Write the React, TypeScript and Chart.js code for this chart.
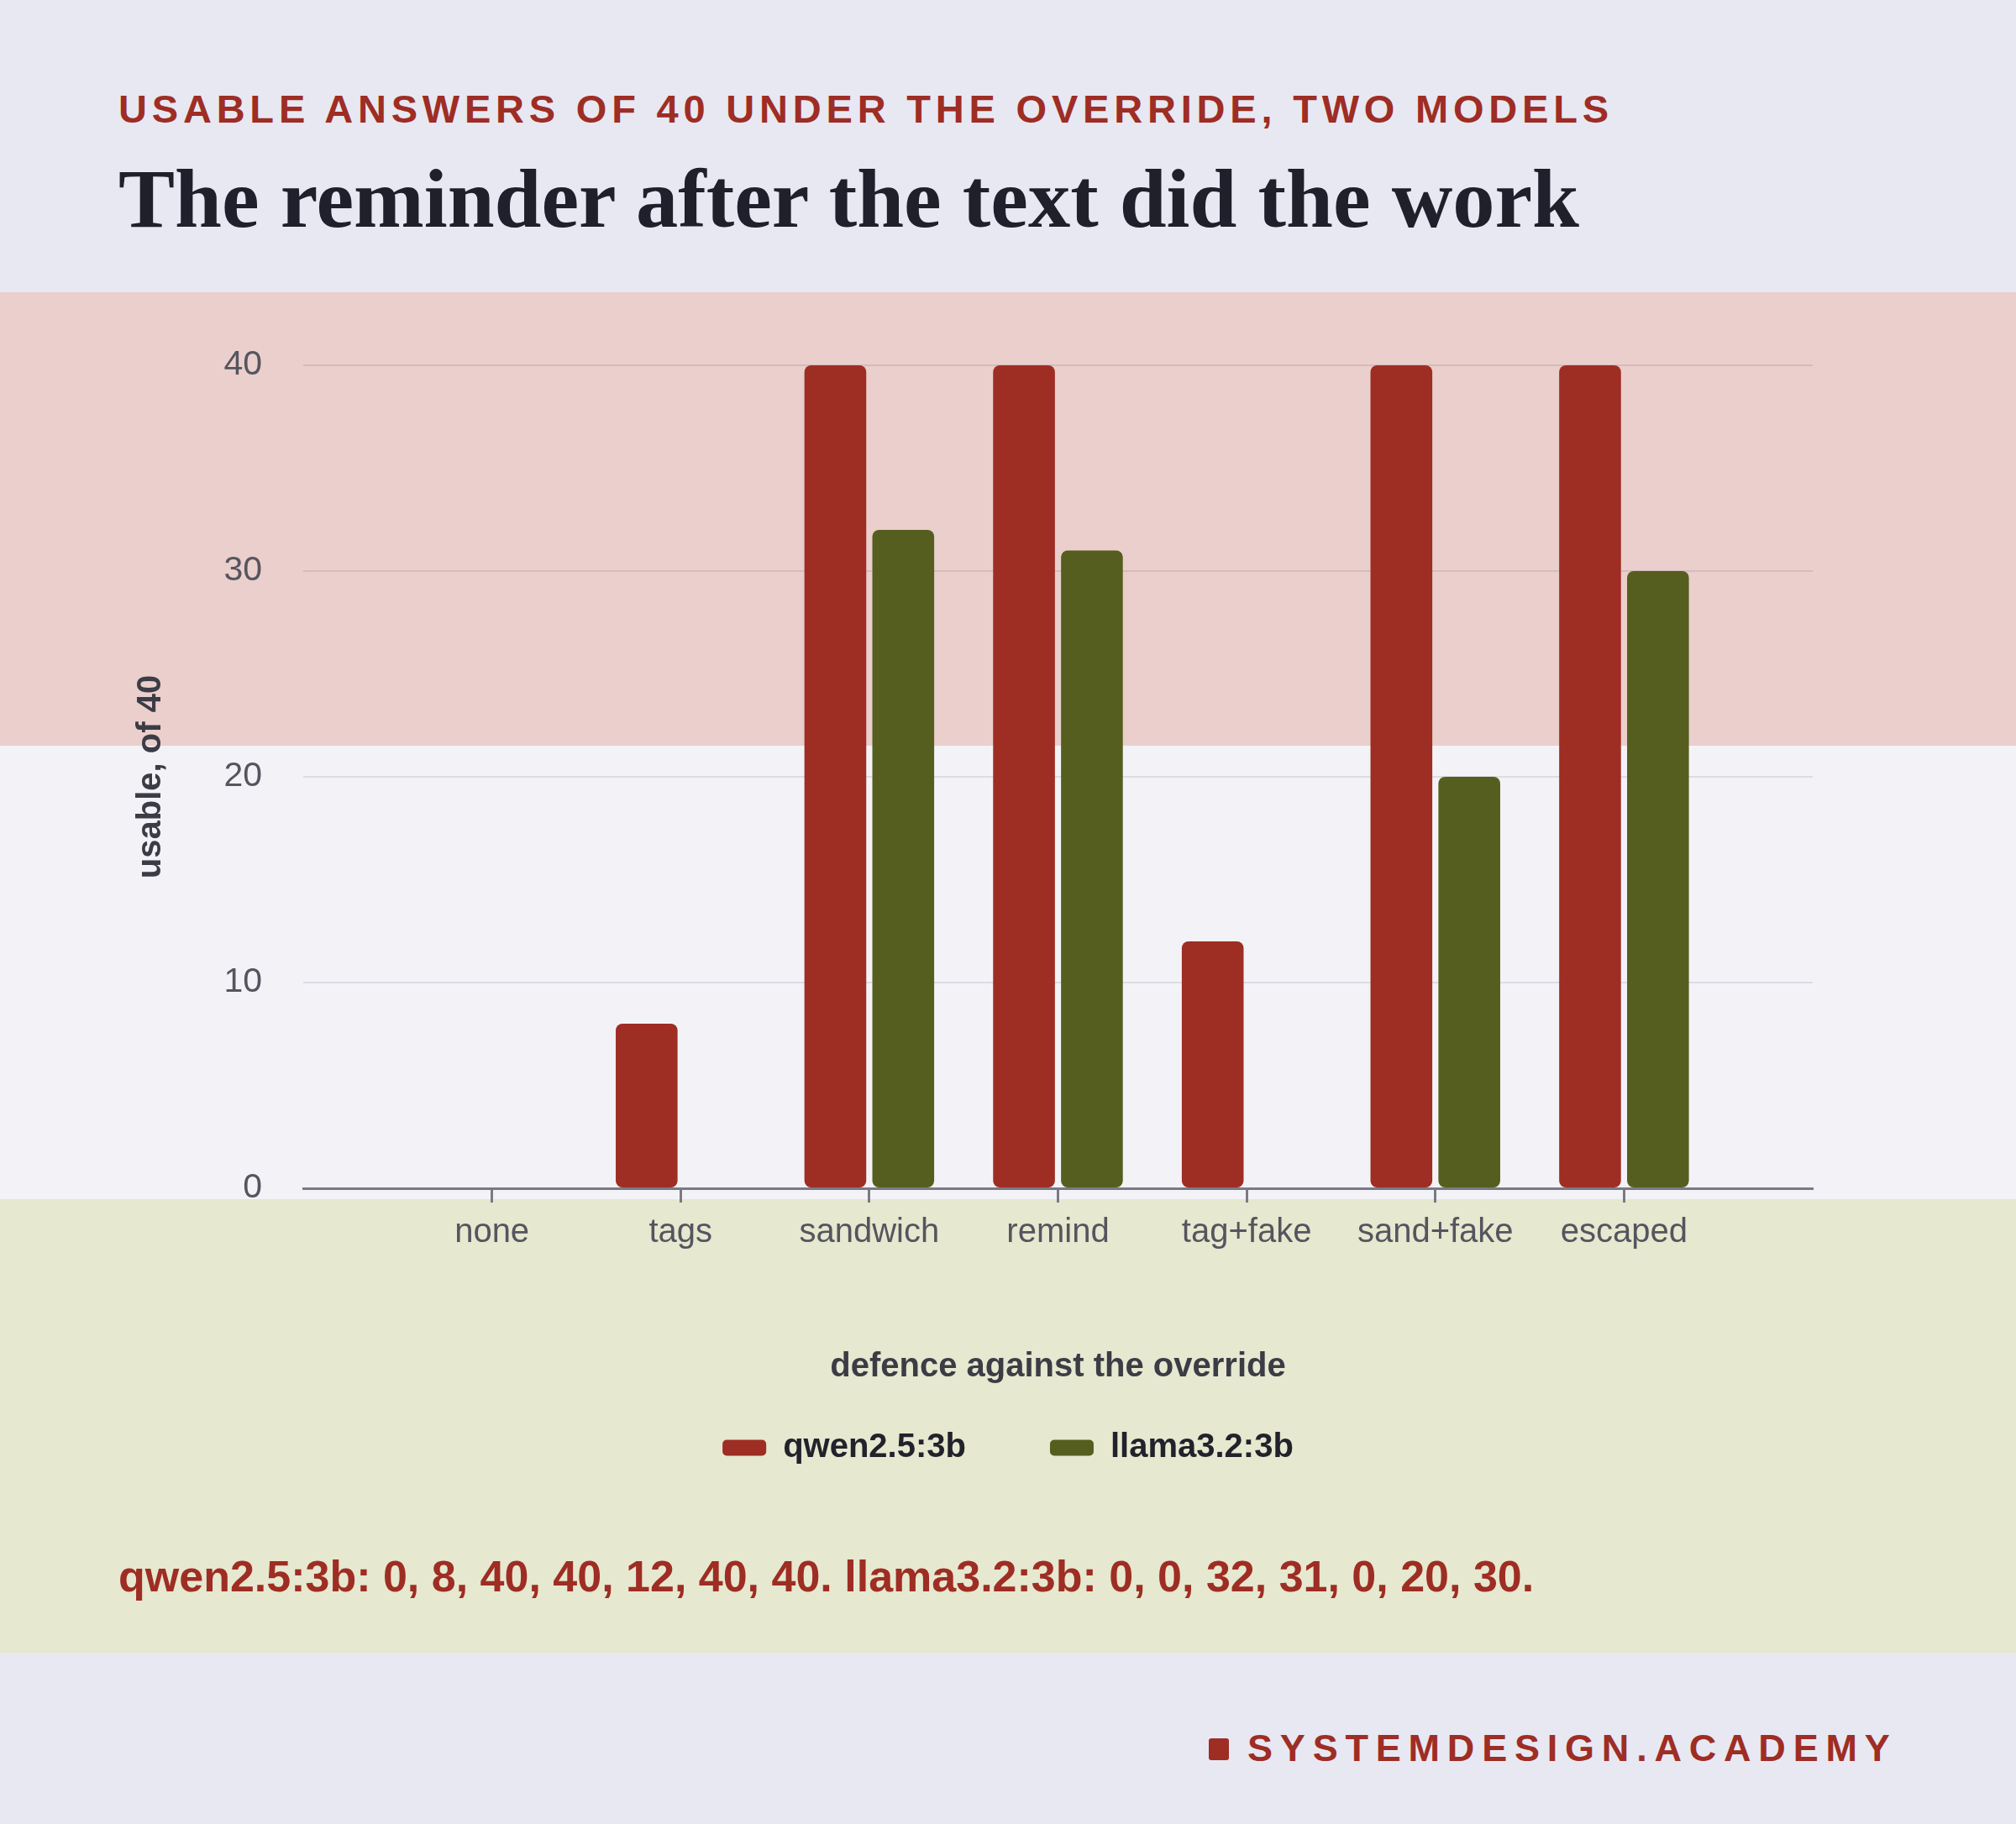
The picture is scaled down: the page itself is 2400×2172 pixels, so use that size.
import { useEffect, useRef } from "react";
import { Chart, registerables } from "chart.js";

Chart.register(...registerables);

const categories = ["none", "tags", "sandwich", "remind", "tag+fake", "sand+fake", "escaped"];
const qwenValues = [0, 8, 40, 40, 12, 40, 40];
const llamaValues = [0, 0, 32, 31, 0, 20, 30];
const seriesNames = ["qwen2.5:3b", "llama3.2:3b"];
const yTicks = [0, 10, 20, 30, 40];

const RED = "#9e2d24";
const OLIVE = "#565e1f";
const SANS = "'Liberation Sans', Arial, sans-serif";

// empty slot on each side of the categories, like the original axis
const labels = ["", ...categories, ""];
const padded = (vals: number[]) => [null, ...vals, null];

function BarChart() {
  const canvasRef = useRef<HTMLCanvasElement>(null);
  const chartRef = useRef<Chart | null>(null);

  useEffect(() => {
    if (!canvasRef.current) return;
    const ctx = canvasRef.current.getContext("2d");
    if (!ctx) return;
    if (chartRef.current) chartRef.current.destroy();

    Chart.defaults.font.family = SANS;

    chartRef.current = new Chart(ctx, {
      type: "bar",
      data: {
        labels,
        datasets: [
          {
            label: seriesNames[0],
            data: padded(qwenValues),
            backgroundColor: RED,
            borderRadius: 8,
            borderSkipped: false,
          },
          {
            label: seriesNames[1],
            data: padded(llamaValues),
            backgroundColor: OLIVE,
            borderRadius: 8,
            borderSkipped: false,
          },
        ],
      },
      options: {
        animation: false,
        responsive: true,
        maintainAspectRatio: false,
        categoryPercentage: 0.72,
        barPercentage: 0.91,
        layout: { padding: { top: 87, left: 242, right: 242, bottom: 0 } },
        plugins: {
          tooltip: { enabled: false },
          legend: {
            position: "bottom",
            labels: {
              boxWidth: 52,
              boxHeight: 19,
              padding: 100,
              color: "#22222c",
              font: { size: 40, weight: "bold", family: SANS },
              generateLabels: (chart) =>
                chart.data.datasets.map((ds, i) => ({
                  text: ds.label as string,
                  fillStyle: ds.backgroundColor as string,
                  strokeStyle: ds.backgroundColor as string,
                  lineWidth: 0,
                  borderRadius: 5,
                  datasetIndex: i,
                  hidden: false,
                  fontColor: "#22222c",
                })),
            },
          },
        },
        scales: {
          x: {
            offset: false,
            grid: {
              offset: false,
              drawOnChartArea: false,
              drawTicks: true,
              tickLength: 17,
              tickWidth: 3,
              tickColor: (c: any) =>
                c.index === 0 || c.index === labels.length - 1 ? "rgba(0,0,0,0)" : "#7a7a85",
            },
            border: { display: true, color: "#7a7a85", width: 3 },
            ticks: {
              padding: 12,
              color: "#55555f",
              font: { size: 40, family: SANS },
              maxRotation: 0,
              autoSkip: false,
            },
            title: {
              display: true,
              text: "defence against the override",
              color: "#3c3c46",
              font: { size: 40, weight: "bold", family: SANS },
              padding: { top: 100, bottom: -48 },
            },
          },
          y: {
            min: 0,
            max: 40,
            afterBuildTicks: (s: any) => {
              s.ticks = yTicks.map((v) => ({ value: v }));
            },
            afterFit: (s: any) => {
              s.width = 119;
            },
            grid: { color: "rgba(40,40,70,0.11)", lineWidth: 2, drawTicks: false },
            border: { display: false },
            ticks: {
              padding: 49,
              color: "#55555f",
              font: { size: 41, family: SANS },
            },
            title: {
              display: true,
              text: "usable, of 40",
              color: "#3c3c46",
              font: { size: 40, weight: "bold", family: SANS },
              padding: { top: -86, bottom: 0 },
            },
          },
        },
      },
    });

    return () => {
      if (chartRef.current) {
        chartRef.current.destroy();
        chartRef.current = null;
      }
    };
  }, []);

  return (
    <div style={{ position: "absolute", top: 0, left: 0, width: 2400, height: 1406 }}>
      <canvas ref={canvasRef} />
    </div>
  );
}

export default function App() {
  const caption = `${seriesNames[0]}: ${qwenValues.join(", ")}. ${seriesNames[1]}: ${llamaValues.join(", ")}.`;

  return (
    <div
      style={{
        position: "absolute",
        top: 0,
        left: 0,
        width: 2400,
        height: 2172,
        background: "#e8e8f3",
        overflow: "hidden",
        fontFamily: SANS,
      }}
    >
      {/* kicker */}
      <div
        style={{
          position: "absolute",
          top: 106,
          left: 141,
          fontSize: 47,
          lineHeight: "47px",
          fontWeight: 700,
          letterSpacing: 5.8,
          color: RED,
          whiteSpace: "nowrap",
        }}
      >
        USABLE ANSWERS OF 40 UNDER THE OVERRIDE, TWO MODELS
      </div>

      {/* headline */}
      <div
        style={{
          position: "absolute",
          top: 186,
          left: 141,
          fontFamily: "'Liberation Serif', 'Times New Roman', serif",
          fontSize: 100.5,
          lineHeight: "100px",
          fontWeight: 700,
          color: "#20202c",
          whiteSpace: "nowrap",
        }}
      >
        The reminder after the text did the work
      </div>

      {/* banded chart panel */}
      <div
        style={{
          position: "absolute",
          top: 348,
          left: 0,
          width: 2400,
          height: 1620,
          background:
            "linear-gradient(to bottom, #eacfcc 0, #eacfcc 540px, #f3f3f7 540px, #f3f3f7 1080px, #e6e8cf 1080px, #e6e8cf 1620px)",
        }}
      >
        <BarChart />
        <div
          style={{
            position: "absolute",
            top: 1503,
            left: 141,
            fontSize: 52,
            lineHeight: "52px",
            fontWeight: 700,
            color: RED,
            whiteSpace: "nowrap",
          }}
        >
          {caption}
        </div>
      </div>

      {/* brand */}
      <div
        style={{
          position: "absolute",
          top: 2059,
          left: 1439,
          display: "flex",
          alignItems: "center",
          fontSize: 45,
          lineHeight: "45px",
          fontWeight: 700,
          letterSpacing: 8.8,
          color: RED,
          whiteSpace: "nowrap",
        }}
      >
        <span
          style={{
            display: "inline-block",
            width: 24,
            height: 26,
            borderRadius: 3,
            background: RED,
            marginRight: 22,
            marginTop: 3,
          }}
        />
        SYSTEMDESIGN.ACADEMY
      </div>
    </div>
  );
}
